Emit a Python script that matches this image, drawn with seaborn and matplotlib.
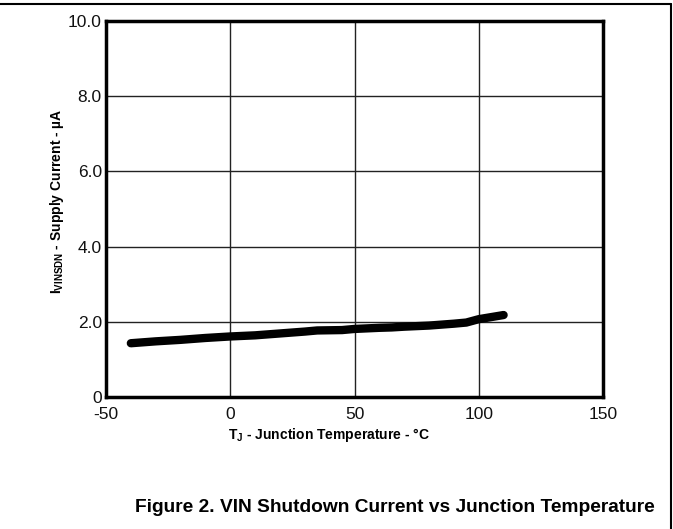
import matplotlib
matplotlib.use("Agg")
import matplotlib.pyplot as plt
import seaborn as sns
import pandas as pd
from matplotlib.lines import Line2D

# Data
temperature_c = [-40, -30, -20, -10, 0, 10, 20, 30, 35, 45, 50, 60, 65, 70, 80, 90, 95, 100, 110]
supply_current_ua = [1.43, 1.48, 1.52, 1.57, 1.61, 1.64, 1.69, 1.74, 1.77, 1.78, 1.81, 1.84, 1.85, 1.87, 1.90, 1.95, 1.98, 2.07, 2.18]
x_ticks = [-50, 0, 50, 100, 150]
x_tick_labels = ["-50", "0", "50", "100", "150"]
y_ticks = [0, 2, 4, 6, 8, 10]
y_tick_labels = ["0", "2.0", "4.0", "6.0", "8.0", "10.0"]

sns.set_theme(style="white")
plt.rcParams['font.family'] = ['Liberation Sans', 'DejaVu Sans']
plt.rcParams['mathtext.fontset'] = 'custom'
plt.rcParams['mathtext.rm'] = 'Liberation Sans'
plt.rcParams['mathtext.bf'] = 'Liberation Sans:bold'
plt.rcParams['mathtext.it'] = 'Liberation Sans:italic'

df = pd.DataFrame({"T": temperature_c, "I": supply_current_ua})

fig = plt.figure(figsize=(6.73, 5.29), dpi=100)
ax = fig.add_axes([106/673, 1 - 397/529, 497/673, 376/529])

sns.lineplot(data=df, x="T", y="I", ax=ax, color="black", linewidth=6,
             solid_capstyle="round", solid_joinstyle="round", zorder=3)

ax.set_xlim(-50, 150)
ax.set_ylim(0, 10)
ax.set_xticks(x_ticks)
ax.set_xticklabels(x_tick_labels)
ax.set_yticks(y_ticks)
ax.set_yticklabels(y_tick_labels)
ax.tick_params(axis="both", which="both", length=0, labelsize=12.5, colors="#111111")
ax.tick_params(axis="x", pad=7)
ax.tick_params(axis="y", pad=3)

ax.grid(True, color="#222222", linewidth=1.0)
ax.set_axisbelow(True)
for s in ax.spines.values():
    s.set_visible(True)
    s.set_color("black")
    s.set_linewidth(2.5)

ax.set_xlabel(r"T$_\mathbf{J}$ - Junction Temperature - °C", fontsize=10, fontweight="bold", color="black")
ax.set_ylabel(r"I$_\mathbf{VINSDN}$ - Supply Current - µA", fontsize=10, fontweight="bold", color="black")
ax.xaxis.set_label_coords((329 - 106) / 497, -(426 - 397) / 376)
ax.yaxis.set_label_coords(-(106 - 66) / 497, (397 - 201) / 376)

fig.text(395/673, 1 - 507/529, "Figure 2. VIN Shutdown Current vs Junction Temperature",
         ha="center", va="center", fontsize=13.8, fontweight="bold", color="black")

# page frame: top and right lines
fig.add_artist(Line2D([0, 670.5/673], [1 - 4/529, 1 - 4/529], transform=fig.transFigure, color="black", linewidth=1.5))
fig.add_artist(Line2D([670.5/673, 670.5/673], [0, 1 - 4/529], transform=fig.transFigure, color="black", linewidth=1.5))

fig.savefig("out.png", dpi=100)
